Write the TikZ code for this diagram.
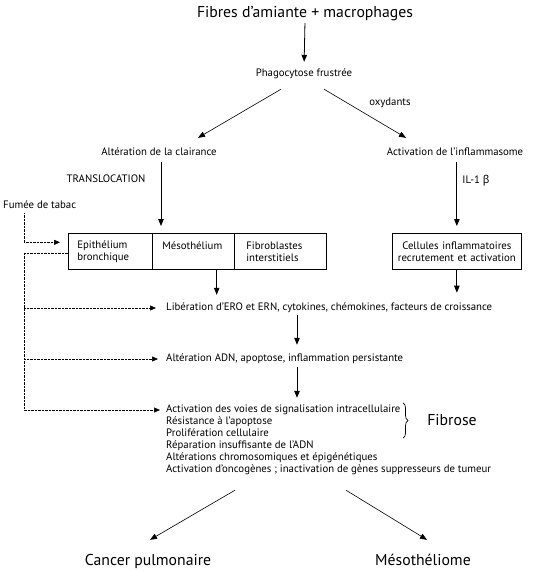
\documentclass[tikz,border=0pt]{standalone}
\usepackage{fontspec}
\setmainfont{PT Sans}
\newfontfamily\grk{Noto Sans}
\usetikzlibrary{arrows.meta,calc,decorations.pathreplacing}
\newlength\wsmall
\newlength\wbig
\AtBeginDocument{%
\settowidth\wsmall{\normalfont\fontsize{10}{12}\selectfont Libération d’ERO et ERN, cytokines, chémokines, facteurs de croissance}%
\settowidth\wbig{\normalfont\fontsize{14}{16}\selectfont Fibres d’amiante + macrophages}%
\pgfmathsetmacro\fs{10*326/\wsmall}%
\pgfmathsetmacro\fb{14*216/\wbig}%
\global\let\fs\fs \global\let\fb\fb}
\begin{document}
\begin{tikzpicture}[x=1pt,y=-1pt]
\tikzset{
  txt/.style={inner sep=0pt, font=\fontsize{\fs}{12}\selectfont, text height=7.5pt, text depth=2.5pt},
  big/.style={inner sep=0pt, font=\fontsize{\fb}{16}\selectfont, text height=10.5pt, text depth=3.5pt},
  cell/.style={draw, line width=0.7pt, inner sep=0pt, minimum height=36pt, anchor=north west, align=left, font=\fontsize{\fs}{12}\selectfont},
  arr/.style={line width=0.8pt, -{Triangle[length=7pt,width=5.5pt]}},
  diag/.style={line width=0.6pt, -{Triangle[length=7pt,width=5.5pt]}},
  dotln/.style={line width=0.6pt, dash pattern=on 0.6pt off 0.8pt},
  dotarr/.style={dotln, -{Triangle[length=6pt,width=5pt]}},
  brc/.style={line width=0.7pt, decorate, decoration={brace, amplitude=5pt}}
}
\fill[white] (0,0) rectangle (542,572);
\useasboundingbox (0,0) rectangle (542,572);

% texts
\node[big] (title) at (305,14) {Fibres d’amiante + macrophages};
\node[txt] (phago) at (304,74) {Phagocytose frustrée};
\node[txt] (oxy) at (390,103) {oxydants};
\node[txt] (alt) at (159,153) {Altération de la clairance};
\node[txt] (actinf) at (455,153) {Activation de l’inflammasome};
\node[txt] (transl) at (106,180) {TRANSLOCATION};
\node[txt] (il) at (476,181) {IL-1 {\grk β}};
\node[txt, anchor=west] (fumee) at (3,206) {Fumée de tabac};

% boxes
\node[cell, minimum width=84pt, text width=66pt, inner xsep=9pt] (b1) at (68,233) {Epithélium\\bronchique};
\node[cell, minimum width=82pt, text width=62pt, inner xsep=10pt] (b2) at (152,233) {Mésothélium\\\phantom{b}};
\node[cell, minimum width=92pt, text width=68pt, inner xsep=12pt] (b3) at (234,233) {Fibroblastes\\interstitiels};
\node[cell, minimum width=129pt, text width=121pt, inner xsep=4pt, align=center] (b4) at (392,233) {Cellules inflammatoires\\recrutement et activation};

\node[txt, anchor=west] (lib) at (166,308) {Libération d’ERO et ERN, cytokines, chémokines, facteurs de croissance};
\node[txt, anchor=west] (adn) at (166,359) {Altération ADN, apoptose, inflammation persistante};
\node[txt, anchor=west] (l1) at (166,410) {Activation des voies de signalisation intracellulaire};
\node[txt, anchor=west] (l2) at (166,422) {Résistance à l’apoptose};
\node[txt, anchor=west] (l3) at (166,434) {Prolifération cellulaire};
\node[txt, anchor=west] (l4) at (166,446) {Réparation insuffisante de l’ADN};
\node[txt, anchor=west] (l5) at (166,458) {Altérations chromosomiques et épigénétiques};
\node[txt, anchor=west] (l6) at (166,470) {Activation d’oncogènes ; inactivation de gènes suppresseurs de tumeur};
\node[big] (fib) at (452,422) {Fibrose};
\node[big] (cancer) at (148,562) {Cancer pulmonaire};
\node[big] (meso) at (423,562) {Mésothéliome};

% connectors
\draw[arr, shorten <=2pt, shorten >=7pt] (title.south) -- (phago.north);
\draw[diag] ($(phago.south)+(-23,10)$) -- ($(alt.north)+(39,-10)$);
\draw[diag] ($(phago.south)+(20,10)$) -- ($(actinf.north)+(-49,-10)$);
\coordinate (lx) at (161,0);
\draw[arr, shorten <=4pt, shorten >=7pt] (lx |- alt.south) -- (lx |- b2.north);
\draw[arr, shorten <=4pt, shorten >=7pt] (b4.north |- actinf.south) -- (b4.north);
\coordinate (r1) at ($(b4.south)+(0,23)$);
\draw[arr] (b4.south) -- (r1);
\coordinate (bx) at ($(b2.south east)+(-18,0)$);
\draw[arr, shorten >=8pt] (bx) -- (bx |- lib.north);
\coordinate (mx) at (297,0);
\draw[arr, shorten <=2pt, shorten >=9pt] (mx |- lib.south) -- (mx |- adn.north);
\draw[arr, shorten <=3pt, shorten >=7pt] (mx |- adn.south) -- (mx |- l1.north);
\coordinate (brx) at (403,0);
\draw[brc] ($(brx |- l1.north)+(0,-2)$) -- ($(brx |- l3.south)+(0,-1)$);
\draw[diag] ($(l6.south west)+(69,15)$) -- ($(cancer.north)+(2,-15)$);
\draw[diag] ($(l6.south west)+(180,15)$) -- ($(meso.north)+(4,-15)$);

% dotted
\coordinate (dl) at (24,0);
\draw[dotarr, shorten >=8pt] ($(dl |- fumee.south)+(0,2)$) |- ($(b1.west)+(0,-9)$);
\draw[dotarr, shorten >=6pt] ($(b1.west)+(0,2)$) -| (dl |- l1.west) -- (l1.west);
\draw[dotarr, shorten >=10pt] (dl |- lib.west) -- (lib.west);
\draw[dotarr, shorten >=8pt] (dl |- adn.west) -- (adn.west);
\end{tikzpicture}
\end{document}
